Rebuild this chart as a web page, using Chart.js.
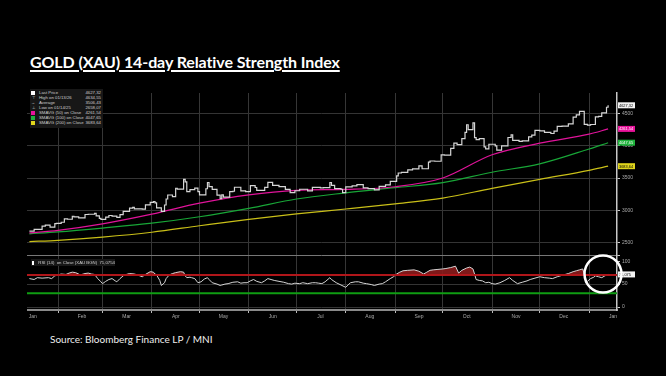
<!DOCTYPE html>
<html>
<head>
<meta charset="utf-8">
<script src="https://cdn.jsdelivr.net/npm/chart.js@4.4.1/dist/chart.umd.min.js"></script>
<style>
  body { margin: 0; background: #000; width: 666px; height: 376px; overflow: hidden; position: relative; font-family: "Liberation Sans", Arial, sans-serif; }
  #title { position: absolute; left: 30px; top: 52px; color: #fff; font: 700 16px Lato, sans-serif; letter-spacing: -0.1px; text-decoration: underline; text-decoration-thickness: 1.5px; text-underline-offset: 2px; white-space: nowrap; }
  #wrap { position: absolute; left: 27px; top: 88px; width: 613px; height: 234px; }
  #src { position: absolute; left: 50px; top: 333px; color: #eee; font: 10px Lato, sans-serif; white-space: nowrap; }
  .leg { position: absolute; background: #171717; color: #cfcfcf; font-size: 4.3px; line-height: 5px; }
  .row { display: flex; align-items: center; height: 5px; padding-left: 1px; }
  .sym { width: 4px; height: 4px; margin-right: 4px; color: #ddd; font-size: 4px; text-align: center; line-height: 4px; }
  .lab { flex: 1; white-space: nowrap; }
  .val { padding-right: 2px; white-space: nowrap; }
</style>
</head>
<body>
<div id="title">GOLD (XAU) 14-day Relative Strength Index</div>
<div id="wrap"><canvas id="myChart"></canvas></div>
<div id="leg" class="leg" style="left:30px; top:89px; width:73px; height:38px; padding-top:1px;"></div>
<div id="rsiLeg" class="leg" style="left:31px; top:259px; width:84px; height:7px;"></div>
<div id="src">Source: Bloomberg Finance LP / MNI</div>
<script>
// day numbers count from 1 Jan 2025 (day 0)
var priceDays = [13,16,21,23,26,29,30,33,35,37,40,41,44,48,50,54,55,57,58,61,63,65,68,70,72,76,78,79,84,86,89,91,92,93,96,97,98,99,100,103,105,106,110,111,112,114,117,119,120,121,124,125,126,128,131,133,134,135,139,141,142,146,149,152,155,156,161,163,166,170,174,177,180,183,188,191,196,198,202,203,205,209,210,212,216,219,223,226,230,233,237,240,244,245,247,251,254,258,260,264,265,268,272,274,278,280,282,285,287,288,289,292,293,294,296,299,300,302,306,307,310,314,316,317,321,323,327,329,331,334,337,341,343,345,348,352,355,357,359,362,364,366,369,371,373,376,377];
var priceClose = [2677,2703,2755,2770,2740,2794,2798,2815,2866,2861,2908,2898,2883,2935,2939,2951,2915,2876,2858,2893,2919,2910,2889,2934,2984,3034,3045,3023,3019,3084,3124,3134,3114,3037,2982,2982,3082,3175,3237,3211,3342,3327,3480,3440,3288,3319,3343,3288,3239,3240,3334,3431,3366,3325,3236,3179,3240,3205,3290,3295,3357,3300,3289,3381,3353,3310,3354,3432,3385,3368,3323,3274,3303,3326,3301,3355,3347,3350,3431,3387,3337,3326,3274,3363,3380,3398,3348,3336,3315,3371,3393,3448,3533,3578,3587,3627,3643,3690,3644,3746,3764,3760,3858,3856,3960,4040,4017,4110,4209,4326,4251,4356,4125,4095,4112,3982,3952,4024,4000,3932,4000,4128,4171,4084,4067,4077,4137,4164,4239,4231,4208,4190,4228,4300,4305,4339,4444,4480,4532,4331,4319,4330,4447,4456,4509,4597,4627.32];

var smaDays = [13,31,59,90,120,151,181,212,243,273,304,334,365,377];
var sma50  = [2650,2690,2790,2940,3110,3240,3310,3325,3365,3500,3860,4040,4180,4261.54];
var sma100 = [2636,2665,2725,2800,2900,3030,3175,3270,3350,3430,3590,3720,3950,4047.65];
var sma200 = [2515,2535,2585,2660,2760,2860,2945,3020,3100,3190,3340,3480,3620,3683.64];

var rsiDays = [13,16,18,21,25,27,29,31,33,36,38,40,42,44,45,48,50,52,54,56,58,59,61,63,65,67,68,70,72,73,76,79,81,84,86,89,91,92,93,95,96,98,99,101,103,105,108,110,111,112,114,115,117,119,121,123,125,126,128,131,133,134,136,138,141,144,146,148,150,152,154,156,159,161,163,165,167,170,173,176,178,180,183,185,188,191,193,195,197,199,202,203,206,209,212,214,215,218,220,223,225,228,230,233,235,237,240,242,244,246,248,251,255,258,261,263,265,267,270,273,275,278,281,283,285,288,290,292,293,294,296,298,300,302,304,306,309,312,315,317,320,323,326,328,331,334,337,340,342,345,349,352,355,357,359,361,362,363,364,366,368,369,371,373,375,377];
var rsiVals = [62,60,64,63,64,62,68,70,72,71,74,76,75,72,70,73,74,72,71,62,55,51,56,60,62,57,55,62,68,70,73,72,70,66,71,77,76,72,70,58,47,53,62,70,73,75,77,76,68,64,65,64,62,53,55,61,64,60,53,50,47,48,50,51,54,55,52,53,53,57,60,56,53,57,62,60,58,56,54,51,50,52,51,53,51,53,53,52,51,55,64,60,53,48,43,50,53,55,55,52,51,49,47,50,51,55,62,66,72,76,79,80,81,78,72,76,80,81,82,83,84,86,89,74,80,85,87,83,72,60,58,57,53,54,51,50,53,58,64,58,51,54,57,60,63,66,64,63,62,66,70,73,77,79,81,83,72,53,56,62,65,68,66,64,68,71.0754];

var rsiUpper = 70;
var rsiLower = 30;

var priceTicks = [2500, 3000, 3500, 4000, 4500];
var rsiTicks = [0, 50, 100];
var monthStartDays = [0,31,59,90,120,151,181,212,243,273,304,334,365];
var monthLabels = ['Jan','Feb','Mar','Apr','May','Jun','Jul','Aug','Sep','Oct','Nov','Dec','Jan'];

var legendStats = [
  ['Last Price', priceClose[priceClose.length - 1]],
  ['High on 01/13/26', 4634.55],
  ['Average', 3506.43],
  ['Low on 01/14/25', 2658.07]
];

var xMin = 11.5, xMax = 382.6;

function fmt(v, d) { return v.toFixed(d).replace('.', ','); }
function pts(xs, ys) { return xs.map(function (x, i) { return {x: x, y: ys[i]}; }); }

// legends as html
var leg = document.getElementById('leg');
var syms = ['', '\u22a4', '\u2192', '\u22a5'];
legendStats.forEach(function (s, i) {
  leg.innerHTML += '<div class="row"><span class="sym" style="' + (i == 0 ? 'background:#fff' : '') + '">' + syms[i] + '</span><span class="lab">' + s[0] + '</span><span class="val">' + fmt(s[1], 2) + '</span></div>';
});
[['SMAVG (50)  on Close', sma50, '#e8139b'], ['SMAVG (100)  on Close', sma100, '#1fb33c'], ['SMAVG (200)  on Close', sma200, '#e0d51c']].forEach(function (s) {
  leg.innerHTML += '<div class="row"><span class="sym" style="background:' + s[2] + '"></span><span class="lab">' + s[0] + '</span><span class="val">' + fmt(s[1][s[1].length - 1], 2) + '</span></div>';
});
document.getElementById('rsiLeg').innerHTML = '<div class="row" style="height:7px"><span class="sym" style="background:#fff"></span><span class="lab">RSI (14)&nbsp; on Close (XAU BGN)&nbsp; ' + fmt(rsiVals[rsiVals.length - 1], 4) + '</span></div>';

var tags = [
  {axis: 'y', value: priceClose[priceClose.length - 1], bg: '#f2f2f2', fg: '#000'},
  {axis: 'y', value: sma50[sma50.length - 1], bg: '#e8139b', fg: '#fff'},
  {axis: 'y', value: sma100[sma100.length - 1], bg: '#1fb33c', fg: '#fff'},
  {axis: 'y', value: sma200[sma200.length - 1], bg: '#e0d51c', fg: '#000'},
  {axis: 'yRsi', value: rsiVals[rsiVals.length - 1], bg: '#f2f2f2', fg: '#000', dec: 3}
];

var tagPlugin = {
  id: 'tags',
  afterDraw: function (chart) {
    var ctx = chart.ctx, right = chart.chartArea.right;
    ctx.save();
    ctx.font = '3.9px "Liberation Sans"';
    ctx.textBaseline = 'middle';
    tags.forEach(function (t) {
      var y = chart.scales[t.axis].getPixelForValue(t.value);
      ctx.fillStyle = t.bg;
      ctx.fillRect(right + 1, y - 3, 17, 6);
      ctx.fillStyle = t.fg;
      ctx.fillText(fmt(t.value, t.dec || 2), right + 2, y + 0.3);
    });
    // circle marking the latest RSI reading
    var cx = chart.scales.x.getPixelForValue(373.8);
    var cy = chart.scales.yRsi.getPixelForValue(72);
    ctx.beginPath();
    ctx.arc(cx, cy, 18.5, 0, Math.PI * 2);
    ctx.strokeStyle = '#fff';
    ctx.lineWidth = 2.5;
    ctx.stroke();
    ctx.restore();
  }
};

function hideFirst(c) { return c.index === 0 ? 'rgba(0,0,0,0)' : '#363636'; }

var ctx = document.getElementById('myChart').getContext('2d');
var myChart = new Chart(ctx, {
  type: 'line',
  data: {
    datasets: [
      {data: pts(rsiDays, rsiVals), xAxisID: 'x', yAxisID: 'yRsi', borderColor: '#d4d4d4', borderWidth: 1, pointRadius: 0, order: 1,
        fill: {target: {value: rsiUpper}, above: 'rgba(140,28,28,0.9)', below: 'rgba(0,0,0,0)'}},
      {data: pts([xMin, xMax], [rsiUpper, rsiUpper]), xAxisID: 'x', yAxisID: 'yRsi', borderColor: '#b0161a', borderWidth: 2, pointRadius: 0, order: 0},
      {data: pts([xMin, xMax], [rsiLower, rsiLower]), xAxisID: 'x', yAxisID: 'yRsi', borderColor: '#0f9d12', borderWidth: 2, pointRadius: 0, order: 2},
      {data: pts(priceDays, priceClose), xAxisID: 'x', yAxisID: 'y', borderColor: '#d6d6d6', borderWidth: 1.2, pointRadius: 0, stepped: true, order: 3},
      {data: pts(smaDays, sma50), xAxisID: 'x', yAxisID: 'y', borderColor: '#e0139a', borderWidth: 1.2, pointRadius: 0, cubicInterpolationMode: 'monotone', order: 4},
      {data: pts(smaDays, sma100), xAxisID: 'x', yAxisID: 'y', borderColor: '#18a637', borderWidth: 1.2, pointRadius: 0, cubicInterpolationMode: 'monotone', order: 5},
      {data: pts(smaDays, sma200), xAxisID: 'x', yAxisID: 'y', borderColor: '#c9bf18', borderWidth: 1.2, pointRadius: 0, cubicInterpolationMode: 'monotone', order: 6}
    ]
  },
  options: {
    responsive: true,
    maintainAspectRatio: false,
    animation: false,
    layout: {padding: 0},
    plugins: {legend: {display: false}, tooltip: {enabled: false}},
    scales: {
      x: {
        type: 'linear', position: 'bottom', min: xMin, max: xMax,
        afterBuildTicks: function (s) { s.ticks = monthStartDays.map(function (v) { return {value: v}; }); },
        grid: {color: hideFirst, tickColor: function (c) { return c.index === 0 ? 'rgba(0,0,0,0)' : '#bbb'; }, lineWidth: 1, drawTicks: true, tickLength: 3},
        border: {color: '#8a8a8a', width: 2},
        ticks: {color: '#aaa', font: {size: 5}, maxRotation: 0, autoSkip: false, padding: 1, labelOffset: 24,
          callback: function (v, i) { return monthLabels[i]; }},
        afterFit: function (s) { s.height = 12; s.paddingLeft = 0; s.paddingRight = 0; }
      },
      y: {
        type: 'linear', axis: 'y', position: 'right', stack: 'main', stackWeight: 166, min: 2303, max: 4818,
        afterBuildTicks: function (s) { s.ticks = priceTicks.map(function (v) { return {value: v}; }); },
        grid: {color: '#343434', drawTicks: true, tickLength: 3, tickColor: '#ccc'},
        border: {color: '#c8c8c8', width: 1.5},
        ticks: {color: '#aaa', font: {size: 5}, padding: 2, callback: function (v) { return String(v); }},
        afterFit: function (s) { s.width = 23; }
      },
      yRsi: {
        type: 'linear', axis: 'y', position: 'right', stack: 'main', stackWeight: 56, min: -6.4, max: 112.8,
        afterBuildTicks: function (s) { s.ticks = rsiTicks.concat([112.8]).map(function (v) { return {value: v}; }); },
        grid: {color: function (c) { return c.tick && c.tick.value > 100 ? '#777' : (c.tick && c.tick.value == 100 ? 'rgba(0,0,0,0)' : '#343434'); },
          drawTicks: true, tickLength: 3, tickColor: '#ccc'},
        border: {color: '#c8c8c8', width: 1.5},
        ticks: {color: '#aaa', font: {size: 5}, padding: 2, callback: function (v) { return v > 100 ? '' : String(v); }},
        afterFit: function (s) { s.width = 23; }
      }
    }
  },
  plugins: [tagPlugin]
});
</script>
</body>
</html>
